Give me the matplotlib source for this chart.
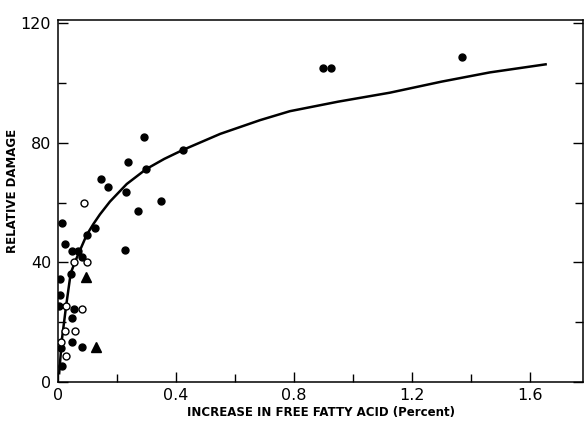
import numpy as np
import matplotlib
matplotlib.use('Agg')
import matplotlib.pyplot as plt
from matplotlib.ticker import MultipleLocator

# Filled circles (increase in FFA %, relative damage)
filled_x = [0.012, 0.022, 0.046, 0.068, 0.098, 0.127, 0.082, 0.043, 0.006, 0.007,
            0.004, 0.053, 0.046, 0.049, 0.082, 0.010, 0.014, 0.146, 0.170, 0.231,
            0.238, 0.292, 0.299, 0.271, 0.349, 0.226, 0.423, 0.899, 0.924, 1.370]
filled_y = [53.0, 46.2, 43.6, 43.6, 49.0, 51.4, 41.6, 36.1, 34.2, 29.0,
            25.3, 24.3, 21.2, 13.1, 11.7, 11.2, 5.3, 67.8, 65.3, 63.6,
            73.6, 82.0, 71.2, 57.0, 60.6, 44.0, 77.6, 105.0, 105.0, 108.7]

# Open circles
open_x = [0.087, 0.054, 0.099, 0.026, 0.082, 0.025, 0.058, 0.010, 0.028]
open_y = [60.0, 40.0, 40.0, 25.3, 24.3, 16.8, 17.0, 13.4, 8.4]

# Triangles
tri_x = [0.095, 0.128]
tri_y = [35.2, 11.7]

# Fitted curve
curve_x = [0.004, 0.013, 0.027, 0.043, 0.058, 0.075, 0.097, 0.120, 0.142, 0.176,
           0.233, 0.299, 0.360, 0.423, 0.55, 0.685, 0.786, 0.95, 1.125, 1.30,
           1.464, 1.653]
curve_y = [2.8, 14.0, 25.0, 36.3, 40.2, 44.1, 49.1, 52.8, 56.0, 60.3,
           66.2, 71.2, 74.6, 77.6, 83.0, 87.6, 90.6, 93.8, 96.8, 100.5,
           103.6, 106.3]

fig = plt.figure(figsize=(5.86, 4.23), dpi=100)
ax = fig.add_axes([0.099, 0.098, 0.896, 0.855])

ax.plot(curve_x, curve_y, color='black', lw=1.8, zorder=2)
ax.plot(filled_x, filled_y, 'o', color='black', ms=5, zorder=3)
ax.plot(open_x, open_y, 'o', mfc='white', mec='black', mew=1.0, ms=5, zorder=3)
ax.plot(tri_x, tri_y, '^', color='black', ms=7, zorder=3)

ax.set_xlim(0, 1.78)
ax.set_ylim(0, 121.2)

ax.xaxis.set_minor_locator(MultipleLocator(0.2))
ax.yaxis.set_major_locator(MultipleLocator(40))
ax.yaxis.set_minor_locator(MultipleLocator(20))
ax.set_xticks([0, 0.4, 0.8, 1.2, 1.6])
ax.set_xticklabels(['0', '0.4', '0.8', '1.2', '1.6'])

ax.tick_params(which='both', direction='in', right=True, top=False,
               labelsize=11.5, width=1.0)
ax.tick_params(which='major', length=7, pad=5)
ax.tick_params(which='minor', length=6)

for s in ax.spines.values():
    s.set_linewidth(1.1)

ax.set_xlabel('INCREASE IN FREE FATTY ACID (Percent)', fontsize=8.5,
              fontweight='bold', labelpad=2)
ax.set_ylabel('RELATIVE DAMAGE', fontsize=8.5, fontweight='bold')
ax.yaxis.set_label_coords(-0.075, 0.527)

fig.savefig('out.png', dpi=100)
